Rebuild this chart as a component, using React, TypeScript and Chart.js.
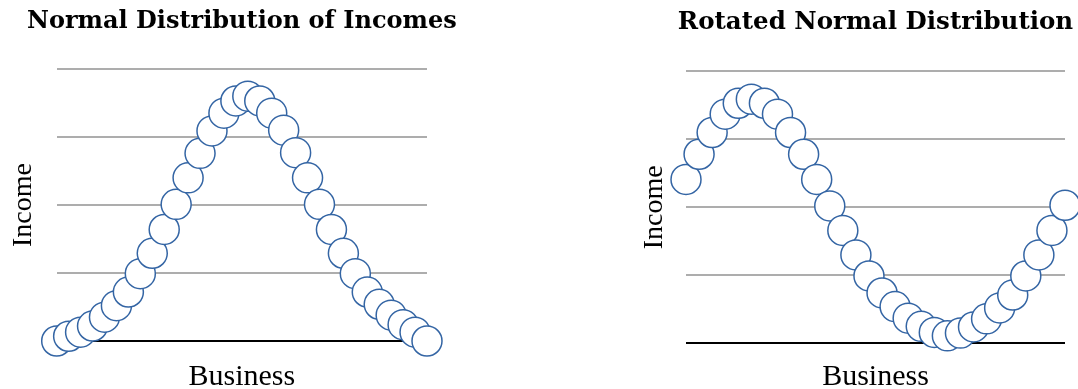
import React, { useEffect, useRef } from "react";
import { Chart, registerables } from "chart.js";

Chart.register(...registerables);

const leftTitle = "Normal Distribution of Incomes";
const rightTitle = "Rotated Normal Distribution";
const xAxisLabel = "Business";
const yAxisLabel = "Income";

const leftBusiness = [
  "1", "2", "3", "4", "5", "6", "7", "8", "9", "10", "11", "12", "13", "14", "15", "16",
  "17", "18", "19", "20", "21", "22", "23", "24", "25", "26", "27", "28", "29", "30", "31", "32",
];
const leftIncome = [
  0.0, 0.07, 0.13, 0.22, 0.35, 0.52, 0.72, 0.99, 1.29, 1.64, 2.01, 2.4, 2.76, 3.09, 3.35, 3.53,
  3.6, 3.53, 3.35, 3.1, 2.77, 2.4, 2.01, 1.64, 1.29, 0.99, 0.72, 0.54, 0.38, 0.24, 0.13, 0.0,
];

const rightBusiness = [
  "1", "2", "3", "4", "5", "6", "7", "8", "9", "10", "11", "12", "13", "14", "15",
  "16", "17", "18", "19", "20", "21", "22", "23", "24", "25", "26", "27", "28", "29", "30",
];
const rightIncome = [
  2.41, 2.78, 3.1, 3.37, 3.53, 3.59, 3.53, 3.37, 3.1, 2.78, 2.41, 2.02, 1.66, 1.3, 0.99,
  0.74, 0.54, 0.37, 0.25, 0.16, 0.11, 0.15, 0.24, 0.36, 0.52, 0.71, 0.99, 1.3, 1.66, 2.03,
];

const incomeMin = 0;
const incomeMax = 4;
const incomeStep = 1;

const GRID_GRAY = "#adadad";
const AXIS_BLACK = "#000000";
const POINT_BLUE = "#3465a4";

type Lay = {
  padLeft: number;
  padRight: number;
  padBottom: number;
  spacer: number;
  titleSize: number;
  titleTop: number;
  titleBottom: number;
  yTitleOuter: number;
  yTitleInner: number;
  xTitleTop: number;
};

function makeChart(canvas: HTMLCanvasElement, labels: string[], values: number[], title: string, lay: Lay) {
  return new Chart(canvas, {
    type: "line",
    data: {
      labels,
      datasets: [
        {
          data: values,
          yAxisID: "y",
          showLine: false,
          pointRadius: 15,
          pointHoverRadius: 15,
          pointBorderWidth: 1.5,
          pointBorderColor: POINT_BLUE,
          pointBackgroundColor: "#ffffff",
          borderColor: POINT_BLUE,
          backgroundColor: "#ffffff",
          clip: false as any,
        },
      ],
    },
    options: {
      responsive: false,
      animation: false,
      events: [],
      layout: {
        autoPadding: false,
        padding: { left: lay.padLeft, right: lay.padRight, top: 0, bottom: lay.padBottom },
      },
      plugins: {
        legend: { display: false },
        tooltip: { enabled: false },
        title: {
          display: true,
          text: title,
          fullSize: true,
          color: "#000",
          font: { family: "'DejaVu Serif'", weight: "bold", size: lay.titleSize, lineHeight: 1.2 },
          padding: { top: lay.titleTop, bottom: lay.titleBottom },
        },
      },
      scales: {
        x: {
          type: "category",
          offset: false,
          grid: { display: false, drawTicks: false },
          border: { display: false },
          ticks: { display: false },
          title: {
            display: true,
            text: xAxisLabel,
            color: "#000",
            font: { family: "'Liberation Serif'", size: 30, lineHeight: 1.2 },
            padding: { top: lay.xTitleTop, bottom: 0 },
          },
        },
        y: {
          type: "linear",
          position: "left",
          min: incomeMin,
          max: incomeMax,
          ticks: { display: false, stepSize: incomeStep },
          grid: {
            drawTicks: false,
            lineWidth: 2,
            color: (ctx: any) => (ctx.tick && ctx.tick.value === 0 ? AXIS_BLACK : GRID_GRAY),
          },
          border: { display: false },
          title: {
            display: true,
            text: yAxisLabel,
            color: "#000",
            font: { family: "'Liberation Serif'", size: 28, lineHeight: 1.2 },
            padding: { top: lay.yTitleOuter, bottom: lay.yTitleInner },
          },
        },
        spacer: {
          type: "linear",
          position: "right",
          display: true,
          grid: { display: false, drawTicks: false },
          border: { display: false },
          ticks: { display: false },
          afterFit: (scale: any) => {
            scale.width = lay.spacer;
          },
        },
      },
    } as any,
  });
}

export default function App() {
  const leftRef = useRef<HTMLCanvasElement | null>(null);
  const rightRef = useRef<HTMLCanvasElement | null>(null);

  useEffect(() => {
    if (!leftRef.current || !rightRef.current) return;
    const left = makeChart(leftRef.current, leftBusiness, leftIncome, leftTitle, {
      padLeft: 6.75,
      padRight: 62,
      padBottom: 25.1,
      spacer: 50,
      titleSize: 24,
      titleTop: 7.8,
      titleBottom: 32.4,
      yTitleOuter: 0,
      yTitleInner: 16.35,
      xTitleTop: 17.9,
    });
    const right = makeChart(rightRef.current, rightBusiness, rightIncome, rightTitle, {
      padLeft: 98.75,
      padRight: 0.75,
      padBottom: 25.1,
      spacer: 48.25,
      titleSize: 24.5,
      titleTop: 7.8,
      titleBottom: 34.1,
      yTitleOuter: 0,
      yTitleInner: 14.65,
      xTitleTop: 15.6,
    });
    return () => {
      left.destroy();
      right.destroy();
    };
  }, []);

  return (
    <div
      style={{
        position: "fixed",
        left: 0,
        top: 0,
        width: 1078,
        height: 389,
        overflow: "hidden",
        background: "#ffffff",
      }}
    >
      <canvas ref={leftRef} width={539} height={420} style={{ position: "absolute", left: 0, top: 0 }} />
      <canvas ref={rightRef} width={575} height={420} style={{ position: "absolute", left: 539, top: 0 }} />
    </div>
  );
}
